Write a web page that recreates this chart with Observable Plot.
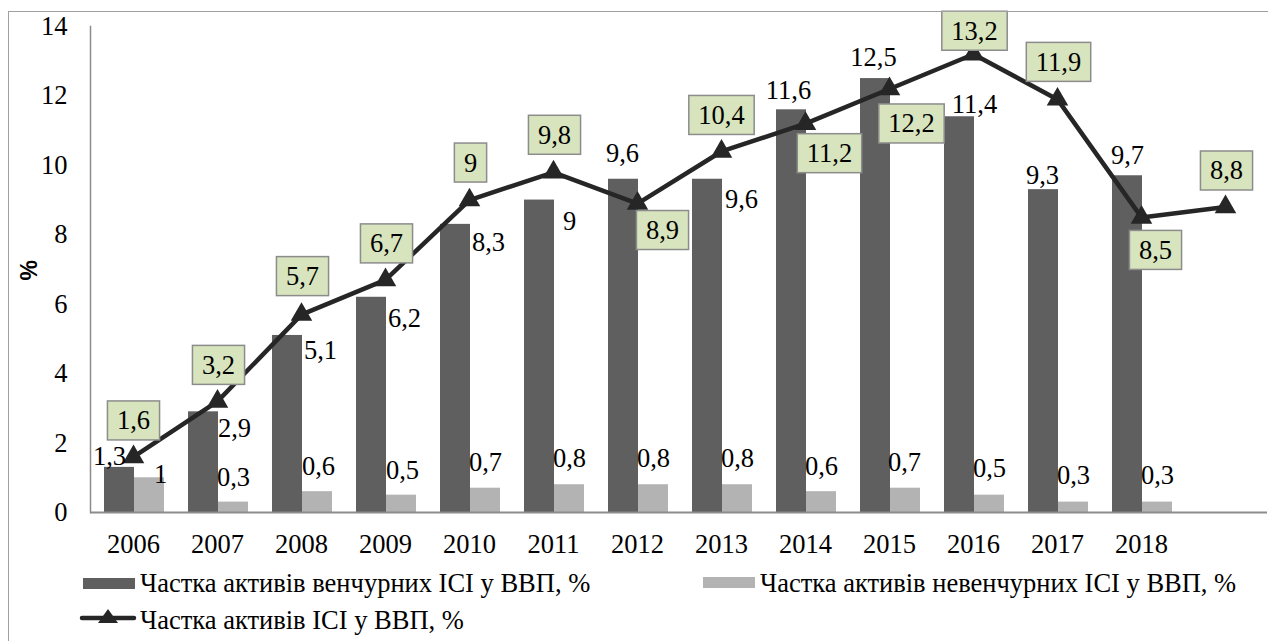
<!DOCTYPE html>
<html>
<head>
<meta charset="utf-8">
<script src="https://cdn.jsdelivr.net/npm/d3@7"></script>
<script src="https://cdn.jsdelivr.net/npm/@observablehq/plot@0.6"></script>
<style>
  html, body { margin: 0; padding: 0; background: #fff; }
  #wrap { position: relative; width: 1276px; height: 641px; overflow: hidden; font-family: "Liberation Serif", "Times New Roman", serif; }
  #border { position: absolute; left: 8px; top: 11px; width: 1259px; height: 640px; border-left: 1.5px solid #a0a0a0; border-top: 1.5px solid #a0a0a0; pointer-events: none; }
  #chart svg { display: block; }
  .leg { position: absolute; font-size: 26.5px; color: #000; white-space: nowrap; line-height: 1; font-family: "Liberation Serif", "Times New Roman", serif; }
  .sw { position: absolute; }
</style>
</head>
<body>
<div id="wrap">
  <div id="chart"></div>
  <div id="border"></div>
  <div id="legend"></div>
</div>
<script>
// ---- data ----
const years = ["2006","2007","2008","2009","2010","2011","2012","2013","2014","2015","2016","2017","2018"," "];
const ventureShare = [1.3, 2.9, 5.1, 6.2, 8.3, 9, 9.6, 9.6, 11.6, 12.5, 11.4, 9.3, 9.7];
const nonVentureShare = [1, 0.3, 0.6, 0.5, 0.7, 0.8, 0.8, 0.8, 0.6, 0.7, 0.5, 0.3, 0.3];
const totalShare = [1.6, 3.2, 5.7, 6.7, 9, 9.8, 8.9, 10.4, 11.2, 12.2, 13.2, 11.9, 8.5, 8.8];
const yTicks = [0, 2, 4, 6, 8, 10, 12, 14];
const seriesNames = ["Частка активів венчурних ІСІ у ВВП, %", "Частка активів невенчурних ІСІ у ВВП, %", "Частка активів ІСІ у ВВП, %"];
const yLabel = "%";

// ---- label layout (pixel offsets from each value point) ----
const ventureLabelOffsets = [[-24,-11],[17,17],[19,15],[19,21],[19,18],[16,21],[-15,-26],[20,20],[-17,-19],[-16,-21],[1,-12],[-15,-14],[-14,-20]];
const nonVentureLabelOffsets = [[27,-3],[16,-25],[17,-25],[17,-25],[16,-26],[16,-26],[16,-26],[16,-26],[16,-25],[15,-26],[16,-27],[16,-27],[16,-27]];
const totalLabelOffsets = [[0,-36],[1,-36],[1,-38],[1,-36],[1,-37],[1,-37],[25,27],[0,-36],[24,30],[22,35],[1,-23],[1,-37],[14,33],[1,-36]];

const fmt = v => String(v).replace(".", ",");
const ventureData = ventureShare.map((v, i) => ({year: years[i], v}));
const nonVentureData = nonVentureShare.map((v, i) => ({year: years[i], v}));
const totalData = totalShare.map((v, i) => ({year: years[i], v}));

const FONT = '"Liberation Serif", "Times New Roman", serif';
const FS = 26.5;
const DARK = "#5f5f5f", LIGHT = "#b3b3b3", LINE = "#262626", AXIS = "#8c8c8c";

const labelMarks = (data, offsets) => data.map((d, i) =>
  Plot.text([d], {x: "year", y: "v", text: d => fmt(d.v), dx: offsets[i][0], dy: offsets[i][1],
    fontSize: FS, fontFamily: FONT, fill: "#000"}));

const svg = Plot.plot({
  width: 1276,
  height: 641,
  marginLeft: 90,
  marginRight: 9,
  marginTop: 26,
  marginBottom: 129,
  style: {fontFamily: FONT, fontSize: FS + "px", background: "transparent", color: "#000"},
  x: {type: "band", domain: years, padding: 0, axis: null},
  y: {domain: [0, 14], axis: null},
  marks: [
    Plot.barY(ventureData, {x: "year", y: "v", fill: DARK, insetLeft: 13, insetRight: 41}),
    Plot.barY(nonVentureData, {x: "year", y: "v", fill: LIGHT, insetLeft: 43, insetRight: 11}),
    Plot.axisY({ticks: yTicks, tickSize: 0, tickPadding: 23, fontSize: FS, fontFamily: FONT, label: null}),
    Plot.axisX({tickSize: 0, tickPadding: 22, fontSize: FS, fontFamily: FONT, label: null}),
    Plot.frame({anchor: "left", stroke: AXIS, strokeWidth: 1.5}),
    Plot.ruleY([0], {stroke: AXIS, strokeWidth: 2}),
    Plot.text([yLabel], {frameAnchor: "left", rotate: -90, dx: -61, dy: 11, fontWeight: "bold", fontSize: 23, fontFamily: '"Liberation Sans", Arial, sans-serif', fill: "#000"}),
    Plot.line(totalData, {x: "year", y: "v", stroke: LINE, strokeWidth: 4.5, strokeLinejoin: "round"}),
    Plot.dot(totalData, {x: "year", y: "v", symbol: "triangle", r: 8, fill: LINE, stroke: "none"}),
    ...labelMarks(ventureData, ventureLabelOffsets),
    ...labelMarks(nonVentureData, nonVentureLabelOffsets),
    ...labelMarks(totalData, totalLabelOffsets)
  ]
});
document.getElementById("chart").append(svg);

// boxes behind the total-series labels (the last text marks, in order)
const textGroups = Array.from(svg.querySelectorAll('g[aria-label="text"]'));
const boxGroups = textGroups.slice(textGroups.length - totalShare.length);
boxGroups.forEach(g => {
  g.querySelectorAll("text").forEach(t => {
    const b = t.getBBox();
    const r = document.createElementNS("http://www.w3.org/2000/svg", "rect");
    const padX = 9.5, padY = 4.5;
    r.setAttribute("x", b.x - padX);
    r.setAttribute("y", b.y - padY);
    r.setAttribute("width", b.width + 2 * padX);
    r.setAttribute("height", b.height + 2 * padY);
    r.setAttribute("fill", "#d7e4bd");
    r.setAttribute("stroke", "#8c8c8c");
    r.setAttribute("stroke-width", "1.5");
    const tr = t.getAttribute("transform");
    if (tr) r.setAttribute("transform", tr);
    t.parentNode.insertBefore(r, t);
  });
});

// ---- legend ----
const legend = document.getElementById("legend");
function add(html) { legend.insertAdjacentHTML("beforeend", html); }
add(`<div class="sw" style="left:83px;top:578px;width:52px;height:11px;background:${DARK}"></div>`);
add(`<div class="leg" style="left:140px;top:570px">${seriesNames[0]}</div>`);
add(`<div class="sw" style="left:703px;top:577px;width:52px;height:11px;background:${LIGHT}"></div>`);
add(`<div class="leg" style="left:760px;top:570px">${seriesNames[1]}</div>`);
add(`<svg class="sw" style="left:78px;top:606px" width="60" height="24"><line x1="4" y1="12" x2="56" y2="12" stroke="${LINE}" stroke-width="4.5" stroke-linecap="round"/><path d="M30,3 L40,17 L20,17 Z" fill="${LINE}"/></svg>`);
add(`<div class="leg" style="left:140px;top:607px">${seriesNames[2]}</div>`);
</script>
</body>
</html>
